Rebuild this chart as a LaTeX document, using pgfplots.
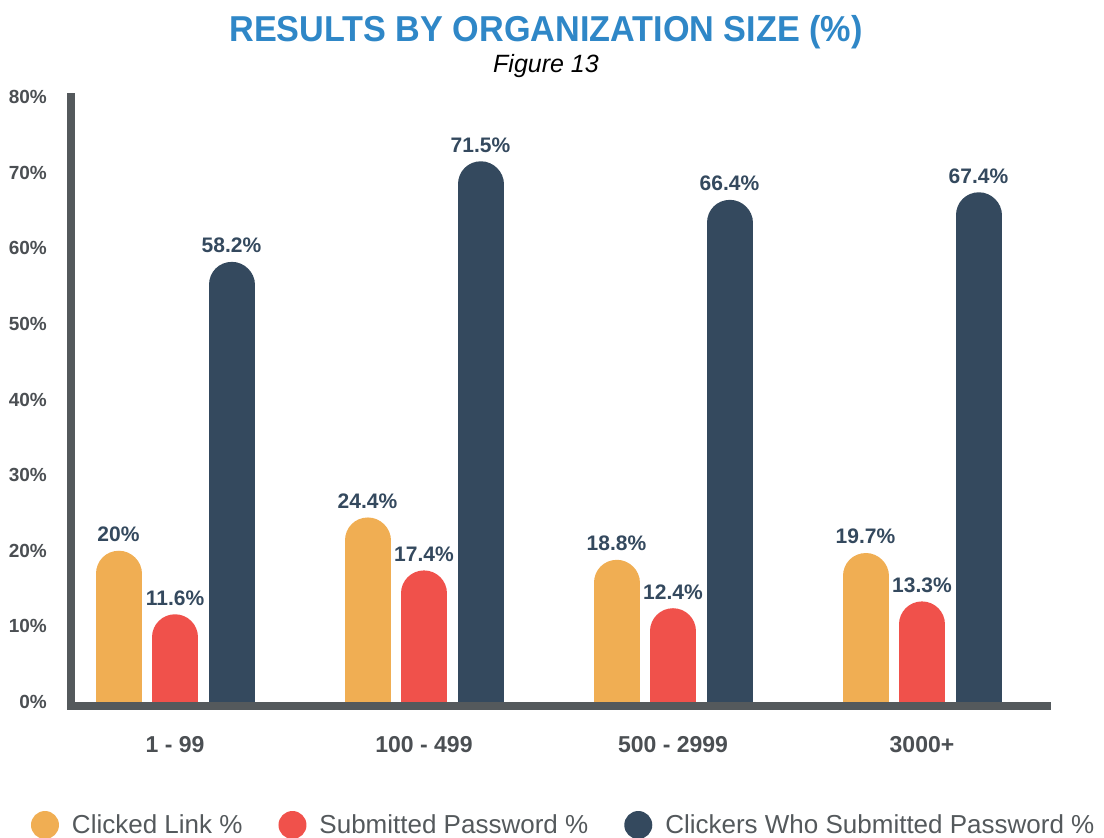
\documentclass[border=0pt]{standalone}
\usepackage{pgfplots}
\pgfplotsset{compat=1.18}
\usepackage{pgfplotstable}
\usepackage{fontspec}
\setmainfont{Liberation Sans}
\definecolor{corange}{HTML}{F0AE53}
\definecolor{cred}{HTML}{F0514B}
\definecolor{cnavy}{HTML}{34495E}
\definecolor{axisgray}{HTML}{54595C}
\definecolor{tickgray}{HTML}{4B4F53}
\definecolor{titleblue}{HTML}{2F87C7}
\definecolor{legendgray}{HTML}{54595C}

\pgfplotstableread{
x clicked submitted clickers
0 20   11.6 58.2
1 24.4 17.4 71.5
2 18.8 12.4 66.4
3 19.7 13.3 67.4
}\data

\begin{document}
\begin{tikzpicture}
\useasboundingbox (0pt,0pt) rectangle (1104pt,-838pt);
\node[anchor=base, text=titleblue, font=\fontsize{36}{40}\selectfont\bfseries, inner sep=0pt] at (546pt,-41pt) {\scalebox{0.95}[1]{RESULTS BY ORGANIZATION SIZE (\%)}};
\node[anchor=base, font=\fontsize{25}{30}\selectfont\itshape, inner sep=0pt] at (546pt,-72pt) {Figure 13};
\begin{axis}[
  at={(71pt,-706pt)}, anchor=south west, scale only axis,
  width=976pt, height=609pt,
  xmin=-0.4177, xmax=3.502, ymin=-0.53, ymax=80,
  axis x line=bottom, axis y line=left,
  axis line style={-, line width=8pt, draw=axisgray, line cap=rect},
  axis on top=true,
  major tick length=0pt, tick style={draw=none},
  xtick={0,1,2,3}, xticklabels={1 - 99,100 - 499,500 - 2999,3000+},
  ytick={0,10,...,80}, yticklabels={0\%,10\%,20\%,30\%,40\%,50\%,60\%,70\%,80\%},
  yticklabel style={font=\fontsize{19}{22}\selectfont\bfseries, text=tickgray, anchor=east, inner sep=0pt, xshift=-24pt},
  xticklabel style={font=\fontsize{23}{26}\selectfont\bfseries, text=tickgray, anchor=center, inner sep=0pt, yshift=-39pt},
  clip=true,
  /pgf/number format/assume math mode=true,
  point meta=explicit,
  nodes near coords={\pgfmathprintnumber{\pgfplotspointmeta}\%},
  every node near coord/.append style={font=\fontsize{21}{24}\selectfont\bfseries, text=cnavy, anchor=south, inner sep=0pt, yshift=9pt},
  legend columns=3,
  legend style={at={(-0.041,-0.1954)}, anchor=west, draw=none, fill=none, inner sep=0pt, outer sep=0pt,
    font=\fontsize{26}{30}\selectfont, text=legendgray, nodes={inner sep=0pt},
    /tikz/every odd column/.append style={column sep=13pt},
    /tikz/every even column/.append style={column sep=36pt}},
]
% each bar is a 46pt-wide stroke with a round cap; its top stops 23pt (3.04 units) below the value so the cap ends at the value
\addplot[ycomb, line width=46pt, line cap=round, draw=corange, mark=none,
  legend image code/.code={\path[fill=corange, draw=none] (14pt,0pt) circle (14pt);}]
  table[x expr=\thisrow{x}-0.2269, y expr=\thisrow{clicked}-3.04, meta=clicked]{\data};
\addlegendentry{Clicked Link \%}
\addplot[ycomb, line width=46pt, line cap=round, draw=cred, mark=none,
  legend image code/.code={\path[fill=cred, draw=none] (14pt,0pt) circle (14pt);}]
  table[x=x, y expr=\thisrow{submitted}-3.04, meta=submitted]{\data};
\addlegendentry{Submitted Password \%}
\addplot[ycomb, line width=46pt, line cap=round, draw=cnavy, mark=none,
  legend image code/.code={\path[fill=cnavy, draw=none] (14pt,0pt) circle (14pt);}]
  table[x expr=\thisrow{x}+0.2269, y expr=\thisrow{clickers}-3.04, meta=clickers]{\data};
\addlegendentry{Clickers Who Submitted Password \%}
\end{axis}
\end{tikzpicture}
\end{document}
